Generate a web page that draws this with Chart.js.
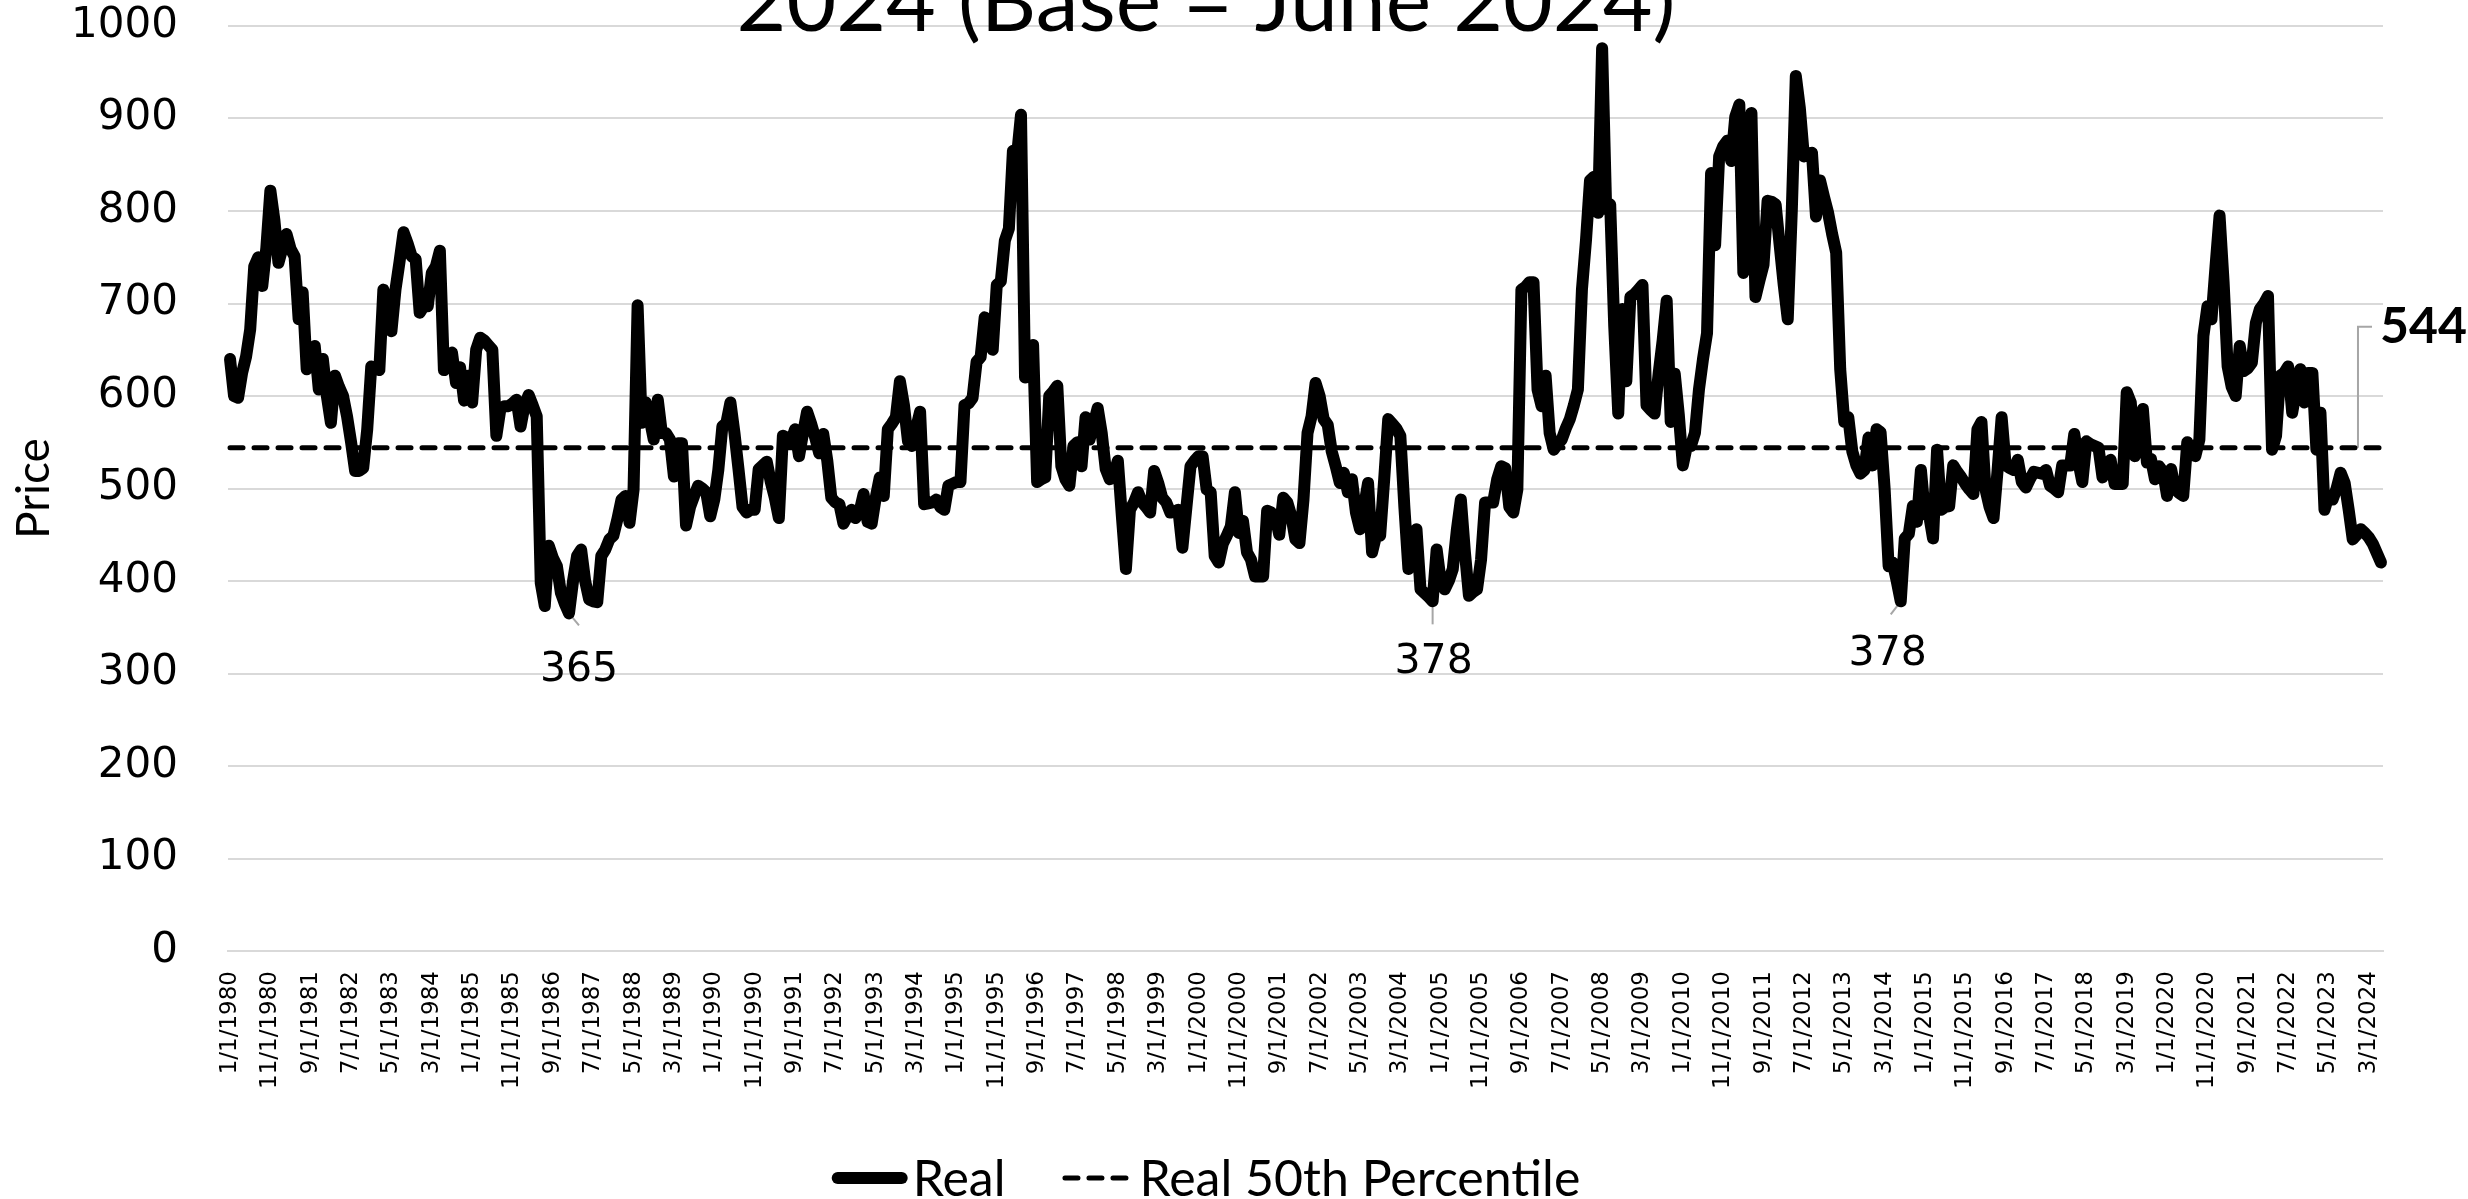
<!DOCTYPE html>
<html>
<head>
<meta charset="utf-8">
<script src="https://cdn.jsdelivr.net/npm/chart.js@4.4.1/dist/chart.umd.min.js"></script>
<style>
  html, body { margin: 0; padding: 0; background: #fff; }
</style>
</head>
<body>
<canvas id="chart" width="2468" height="1199"></canvas>
<script>
// monthly series, Jan 1980 .. Jun 2024 (one row per year)
const startYear = 1980;
const realValues = [
  640, 600, 598, 625, 643, 672, 740, 750, 719, 760, 822, 790, // 1980
  744, 760, 775, 759, 751, 683, 712, 629, 640, 654, 607, 640, // 1981
  600, 571, 622, 610, 600, 578, 550, 519, 519, 522, 564, 632, // 1982
  630, 628, 715, 690, 670, 715, 745, 777, 765, 751, 748, 690, // 1983
  697, 697, 733, 740, 757, 628, 640, 647, 614, 631, 595, 622, // 1984
  593, 650, 663, 660, 655, 650, 557, 586, 589, 589, 592, 596, // 1985
  567, 590, 601, 590, 578, 398, 373, 438, 425, 416, 387, 375, // 1986
  365, 400, 427, 434, 400, 380, 378, 377, 427, 434, 445, 449, // 1987
  467, 488, 492, 463, 499, 698, 571, 593, 575, 553, 596, 560, // 1988
  560, 553, 513, 549, 549, 460, 480, 492, 503, 500, 496, 470, // 1989
  488, 520, 567, 571, 593, 560, 521, 480, 474, 477, 477, 521, // 1990
  525, 529, 507, 490, 468, 557, 555, 551, 564, 535, 560, 583, // 1991
  570, 555, 538, 559, 530, 490, 485, 483, 462, 470, 477, 468, // 1992
  475, 494, 464, 462, 490, 512, 492, 564, 570, 577, 616, 590, // 1993
  551, 546, 565, 583, 483, 484, 485, 488, 480, 477, 503, 505, // 1994
  507, 507, 590, 592, 598, 637, 642, 685, 660, 650, 720, 724, // 1995
  768, 781, 865, 859, 904, 620, 640, 655, 507, 510, 512, 600, // 1996
  605, 611, 524, 510, 503, 546, 550, 524, 577, 553, 570, 587, // 1997
  560, 521, 510, 515, 530, 470, 413, 477, 485, 496, 485, 480, // 1998
  474, 519, 506, 490, 485, 474, 475, 477, 436, 480, 524, 530, // 1999
  535, 535, 499, 496, 427, 420, 440, 449, 459, 496, 452, 465, // 2000
  431, 423, 405, 405, 405, 476, 474, 470, 450, 490, 485, 470, // 2001
  445, 441, 488, 560, 578, 614, 600, 575, 569, 540, 524, 506, // 2002
  517, 496, 510, 474, 456, 480, 506, 431, 449, 449, 510, 575, // 2003
  570, 565, 557, 480, 413, 440, 456, 391, 387, 383, 378, 434, // 2004
  400, 391, 400, 413, 455, 488, 431, 384, 388, 391, 423, 485, // 2005
  485, 485, 510, 524, 522, 480, 474, 499, 715, 718, 723, 723, // 2006
  607, 589, 622, 560, 542, 548, 553, 565, 575, 590, 607, 715, // 2007
  768, 833, 837, 798, 976, 802, 807, 676, 581, 694, 616, 707, // 2008
  710, 715, 720, 590, 585, 581, 624, 660, 703, 572, 624, 580, // 2009
  525, 546, 546, 560, 607, 640, 668, 841, 763, 859, 870, 876, // 2010
  854, 902, 915, 733, 820, 906, 707, 725, 742, 811, 810, 807, // 2011
  763, 720, 683, 800, 946, 911, 859, 862, 863, 794, 833, 815, // 2012
  798, 775, 755, 629, 572, 577, 540, 525, 516, 520, 555, 525, // 2013
  564, 561, 500, 416, 420, 400, 378, 446, 451, 481, 464, 520, // 2014
  472, 472, 446, 542, 477, 480, 481, 525, 518, 512, 505, 499, // 2015
  494, 564, 572, 499, 480, 468, 520, 577, 525, 522, 520, 531, // 2016
  507, 501, 510, 518, 517, 516, 520, 503, 500, 496, 525, 525, // 2017
  525, 559, 529, 507, 551, 548, 546, 544, 512, 525, 531, 505, // 2018
  505, 505, 604, 593, 535, 560, 586, 528, 532, 510, 524, 518, // 2019
  492, 521, 499, 495, 492, 550, 540, 535, 553, 665, 697, 683, // 2020
  740, 795, 723, 632, 610, 600, 654, 627, 630, 636, 679, 694, // 2021
  700, 708, 542, 557, 622, 625, 632, 582, 607, 629, 593, 625, // 2022
  625, 542, 582, 477, 492, 488, 500, 517, 506, 477, 445, 450, // 2023
  456, 452, 447, 440, 430, 420                                // 2024
];
const percentile50 = 544;
const yTicks = [0, 100, 200, 300, 400, 500, 600, 700, 800, 900, 1000];
const titleText = "2024 (Base = June 2024)";
const seriesNames = ["Real", "Real 50th Percentile"];

// month indexes of the marked lows
const lowIndexes = [84, 298, 414];

// x-axis categories as in the sheet: m/1/yyyy
const categories = realValues.map((v, i) => `${i % 12 + 1}/1/${startYear + Math.floor(i / 12)}`);

// where the low labels sit relative to their point
const lowLabelPos = [
  { dx: 10, dy: 57, lx: 10, ly: 12 },
  { dx: 1, dy: 61, lx: 0, ly: 23 },
  { dx: -13, dy: 53, lx: -10, ly: 13 }
];

const cutTitle = {
  id: "cutTitle",
  afterDraw(chart) {
    const ctx = chart.ctx;
    ctx.save();
    ctx.font = "95px Lato";
    const size = 95 * 939 / ctx.measureText(titleText).width;
    ctx.font = `${size}px Lato`;
    ctx.fillStyle = "#000";
    ctx.textAlign = "center";
    ctx.textBaseline = "alphabetic";
    ctx.fillText(titleText, 1206, 31);
    ctx.restore();
  }
};

// legend drawn by hand so the dash and spacing follow the sheet
const bottomLegend = {
  id: "bottomLegend",
  afterDraw(chart) {
    const ctx = chart.ctx;
    const sets = chart.data.datasets;
    const symW = [76, 66];
    const textGap = [5, 11];
    const itemGap = 57;
    ctx.save();
    ctx.font = "50px Lato";
    const widths = sets.map((d, i) => symW[i] + textGap[i] + ctx.measureText(d.label).width);
    let x = 1206 - (widths[0] + itemGap + widths[1]) / 2;
    const yMid = 1178;
    sets.forEach((d, i) => {
      const cap = d.borderWidth / 2;
      ctx.strokeStyle = d.borderColor;
      ctx.lineWidth = d.borderWidth;
      ctx.lineCap = d.borderCapStyle;
      ctx.setLineDash(d.borderDash || []);
      ctx.beginPath();
      ctx.moveTo(x + cap, yMid);
      ctx.lineTo(x + symW[i] - cap, yMid);
      ctx.stroke();
      ctx.setLineDash([]);
      ctx.fillStyle = "#000";
      ctx.textAlign = "left";
      ctx.textBaseline = "alphabetic";
      ctx.fillText(d.label, x + symW[i] + textGap[i], 1196);
      x += widths[i] + itemGap;
    });
    ctx.restore();
  }
};

const pointNotes = {
  id: "pointNotes",
  beforeDatasetsDraw(chart) {
    const { ctx, scales: { x, y } } = chart;
    ctx.save();
    ctx.strokeStyle = "#a6a6a6";
    ctx.lineWidth = 2;
    ctx.fillStyle = "#000";

    ctx.font = '41px "DejaVu Sans"';
    ctx.textAlign = "center";
    ctx.textBaseline = "middle";
    lowIndexes.forEach((idx, k) => {
      const p = lowLabelPos[k];
      const px = x.getPixelForValue(idx);
      const py = y.getPixelForValue(realValues[idx]);
      ctx.beginPath();
      ctx.moveTo(px, py);
      ctx.lineTo(px + p.lx, py + p.ly);
      ctx.stroke();
      ctx.fillText(String(realValues[idx]), px + p.dx, py + p.dy);
    });

    // label on the end of the percentile line
    const last = realValues.length - 1;
    const ex = x.getPixelForValue(last);
    const ey = y.getPixelForValue(percentile50);
    ctx.beginPath();
    ctx.moveTo(ex - 23, ey);
    ctx.lineTo(ex - 23, ey - 121);
    ctx.lineTo(ex - 9, ey - 121);
    ctx.stroke();
    ctx.font = 'bold 50px Lato';
    ctx.textAlign = "left";
    ctx.fillText(String(percentile50), ex - 1, ey - 121);
    ctx.restore();
  }
};

new Chart(document.getElementById("chart"), {
  type: "line",
  data: {
    labels: categories,
    datasets: [
      {
        label: seriesNames[0],
        data: realValues,
        borderColor: "#000",
        backgroundColor: "#000",
        borderWidth: 12,
        borderJoinStyle: "round",
        borderCapStyle: "round",
        pointRadius: 0,
        tension: 0
      },
      {
        label: seriesNames[1],
        data: realValues.map(() => percentile50),
        borderColor: "#000",
        backgroundColor: "#000",
        borderWidth: 5,
        borderDash: [13, 11],
        borderCapStyle: "round",
        pointRadius: 0,
        tension: 0
      }
    ]
  },
  options: {
    responsive: false,
    animation: false,
    devicePixelRatio: 1,
    layout: { padding: { left: 0, right: 85, top: 26, bottom: 0 } },
    plugins: {
      title: { display: false },
      tooltip: { enabled: false },
      legend: { display: false }
    },
    scales: {
      x: {
        offset: true,
        grid: { display: false },
        border: { display: true, color: "#d9d9d9", width: 2 },
        ticks: {
          autoSkip: false,
          minRotation: 90,
          maxRotation: 90,
          padding: 12,
          color: "#000",
          font: { family: "DejaVu Sans", size: 23 },
          callback: function (v, i) { return i % 10 === 0 ? this.getLabelForValue(v) : null; }
        },
        afterFit(scale) { scale.height = 1199 - 951; }
      },
      y: {
        min: yTicks[0],
        max: yTicks[yTicks.length - 1],
        afterBuildTicks(scale) { scale.ticks = yTicks.map(v => ({ value: v })); },
        grid: { color: "#d9d9d9", lineWidth: 2, drawTicks: true, tickLength: 50, tickColor: "rgba(0,0,0,0)" },
        border: { display: false },
        ticks: {
          padding: 0,
          color: "#000",
          font: { family: "DejaVu Sans", size: 42 },
          callback: v => String(v)
        },
        title: {
          display: true,
          text: "Price",
          color: "#000",
          padding: { top: 7, bottom: 0 },
          font: { family: "Lato", size: 46 }
        },
        afterFit(scale) { scale.width = 228; }
      }
    }
  },
  plugins: [cutTitle, bottomLegend, pointNotes]
});
</script>
</body>
</html>
